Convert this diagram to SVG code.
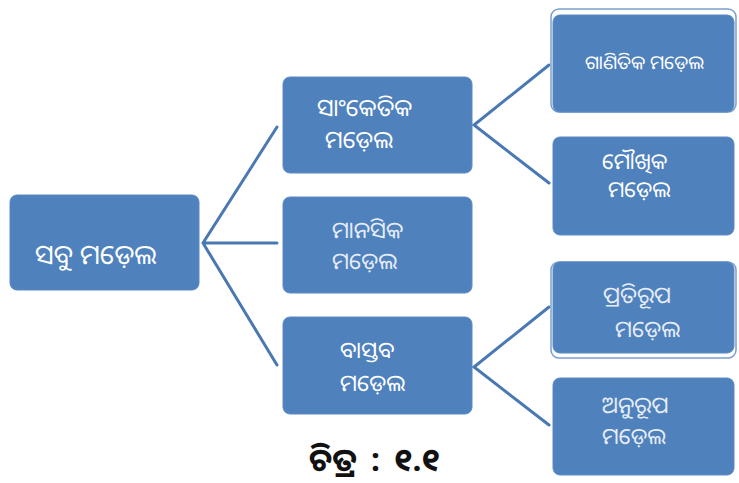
<svg xmlns="http://www.w3.org/2000/svg" width="739" height="483" viewBox="0 0 739 483">
<style>
.box{fill:#4f81bd;stroke:#5a8ac4;stroke-width:1}
.frame{fill:none;stroke:#7b9fd0;stroke-width:1.5}
.t{fill:#ffffff;font-family:"Noto Sans Oriya","Lohit Odia","Kalinga","Noto Sans","DejaVu Sans",sans-serif}
.tl{fill:#e6edf7}
.conn{stroke:#4a78b3;stroke-width:3;fill:none;stroke-linecap:round}
.cap{fill:#111111;font-family:"Noto Sans Oriya","Noto Sans","DejaVu Sans",sans-serif;font-size:32px;font-weight:bold}
</style>
<rect width="739" height="483" fill="#ffffff"/>
<g id="connectors">
<path class="conn" d="M277,127 L203,243 L277,365 M203,243 L277,243"/>
<path class="conn" d="M549,65 L474,125 L549,183"/>
<path class="conn" d="M549,307 L474,367 L549,425"/>
</g>
<g id="root">
<rect class="box" x="10" y="195" width="189" height="95" rx="7"/>
<text class="t" x="35" y="264" style="font-size:27px">ସବୁ ମଡ଼େଲ</text>
</g>
<g id="sanketika">
<rect class="box" x="283" y="77" width="189" height="96" rx="7"/>
<text class="t" x="317" y="116" style="font-size:24px">ସାଂକେତିକ</text>
<text class="t" x="325" y="148" style="font-size:24px">ମଡ଼େଲ</text>
</g>
<g id="manasika">
<rect class="box" x="283" y="197" width="189" height="96" rx="7"/>
<text class="t tl" x="332" y="238" style="font-size:23px">ମାନସିକ</text>
<text class="t tl" x="332" y="269" style="font-size:23px">ମଡ଼େଲ</text>
</g>
<g id="bastaba">
<rect class="box" x="283" y="317" width="189" height="97" rx="7"/>
<text class="t" x="340" y="358" style="font-size:23px">ବାସ୍ତବ</text>
<text class="t" x="340" y="391" style="font-size:23px">ମଡ଼େଲ</text>
</g>
<g id="ganitika">
<rect class="frame" x="551" y="9" width="185" height="103" rx="8"/>
<rect class="box" x="553" y="15" width="181" height="97" rx="7"/>
<text class="t" x="585" y="69" style="font-size:19px">ଗାଣିତିକ ମଡ଼େଲ</text>
</g>
<g id="moukhika">
<rect class="box" x="553" y="137" width="181" height="98" rx="7"/>
<text class="t" x="602" y="169" style="font-size:22px">ମୌଖିକ</text>
<text class="t" x="608" y="197" style="font-size:22px">ମଡ଼େଲ</text>
</g>
<g id="pratirupa">
<rect class="frame" x="551" y="262" width="185" height="96" rx="8"/>
<rect class="box" x="553" y="262" width="181" height="91" rx="7"/>
<text class="t tl" x="603" y="303" style="font-size:23px">ପ୍ରତିରୂପ</text>
<text class="t tl" x="615" y="337" style="font-size:23px">ମଡ଼େଲ</text>
</g>
<g id="anurupa">
<rect class="box" x="553" y="378" width="181" height="97" rx="7"/>
<text class="t tl" x="602" y="413" style="font-size:23px">ଅନୁରୂପ</text>
<text class="t tl" x="602" y="444" style="font-size:22.5px">ମଡ଼େଲ</text>
</g>
<g id="caption">
<text class="cap" x="309" y="471" style="word-spacing:6px">ଚିତ୍ର : ୧.୧</text>
</g>
</svg>
